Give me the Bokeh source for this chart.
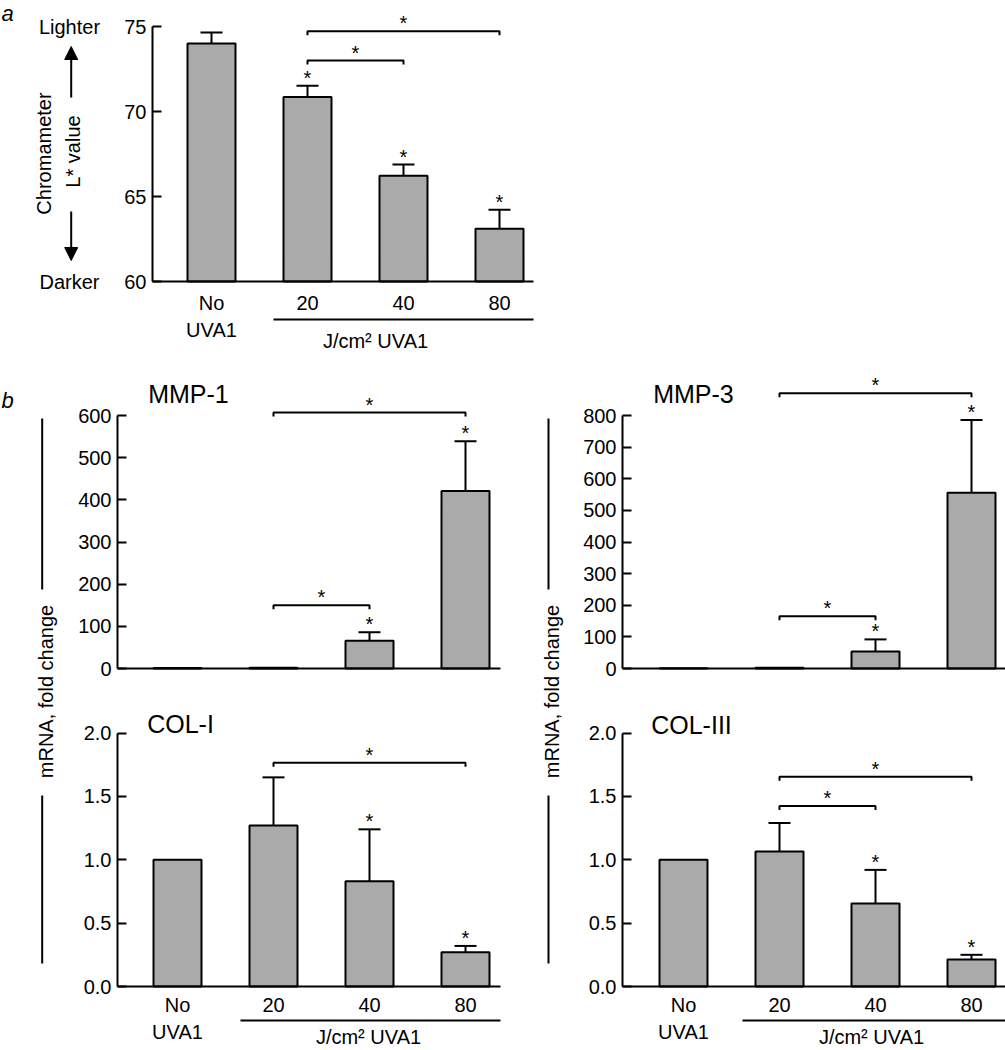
import math
from bokeh.plotting import figure
from bokeh.models import Range1d, Arrow, NormalHead, FixedTicker, PrintfTickFormatter
from bokeh.layouts import column, row
from bokeh.embed import file_html
from bokeh.resources import INLINE
from bokeh.core.properties import value

FONT = "Liberation Sans"
BAR_FILL = "#aaaaaa"
STEP = 96.0  # pixels between group centres

# ---------------- data ----------------
groups = ["No\nUVA1", "20", "40", "80"]
dose_label = "J/cm\u00b2 UVA1"

chrom_mean = [74.0, 70.86, 66.22, 63.10]
chrom_sem = [0.65, 0.65, 0.66, 1.12]
chrom_sig = [False, True, True, True]
chrom_ticks = [60, 65, 70, 75]
chrom_pairs = [(1, 3), (1, 2)]
chrom_pair_level = [74.72, 73.0]

mmp1_mean = [1.0, 2.0, 66.0, 421.0]
mmp1_sem = [0.0, 0.0, 20.0, 118.0]
mmp1_sig = [False, False, True, True]
mmp1_ticks = [0, 100, 200, 300, 400, 500, 600]
mmp1_pairs = [(1, 3), (1, 2)]
mmp1_pair_level = [607.0, 150.0]

mmp3_mean = [1.0, 2.0, 54.0, 556.0]
mmp3_sem = [0.0, 0.0, 38.0, 230.0]
mmp3_sig = [False, False, True, True]
mmp3_ticks = [0, 100, 200, 300, 400, 500, 600, 700, 800]
mmp3_pairs = [(1, 3), (1, 2)]
mmp3_pair_level = [870.0, 165.0]

col1_mean = [1.0, 1.27, 0.83, 0.27]
col1_sem = [0.0, 0.38, 0.41, 0.05]
col1_sig = [False, False, True, True]
col_ticks = [0.0, 0.5, 1.0, 1.5, 2.0]
col1_pairs = [(1, 3)]
col1_pair_level = [1.766]

col3_mean = [1.0, 1.065, 0.655, 0.213]
col3_sem = [0.0, 0.225, 0.265, 0.037]
col3_sig = [False, False, True, True]
col3_pairs = [(1, 3), (1, 2)]
col3_pair_level = [1.655, 1.424]


# ---------------- geometry helper (page pixels -> data units) ----------------
class Geo:
    def __init__(self, cx0, cy0, w, h, fl, fr, cat0, axis, ppu, y0):
        self.cx0, self.cy0, self.w, self.h = cx0, cy0, w, h
        self.fl, self.fr = fl, fr
        self.cat0, self.axis, self.ppu, self.y0 = cat0, axis, ppu, y0

    def X(self, px):
        return (px - self.cat0) / STEP

    def Y(self, py):
        return self.y0 + (self.axis - py) / self.ppu

    def vpx(self, n):
        return n / self.ppu


def txt(p, x, y, texts, size="20px", align="center", baseline="middle",
        angle=0.0, style="normal", y_offset=0):
    p.text(x=x, y=y, text=texts, text_font=value(FONT), text_font_size=size,
           text_align=align, text_baseline=baseline, angle=angle,
           text_font_style=style, text_color="black", y_offset=y_offset)


def make_panel(g, means, sems, sig, ticks, fmt, pairs, levels,
               title=None, title_at=None, label_y=None):
    p = figure(width=g.w, height=g.h,
               x_range=Range1d(g.X(g.cx0), g.X(g.cx0 + g.w)),
               y_range=Range1d(g.Y(g.cy0 + g.h), g.Y(g.cy0)),
               output_backend="svg", toolbar_location=None, title=None,
               min_border=0)
    p.outline_line_color = None
    p.xgrid.visible = False
    p.ygrid.visible = False
    p.background_fill_color = "white"
    p.border_fill_color = "white"

    xs = list(range(len(groups)))
    p.vbar(x=xs, top=means, bottom=g.y0, width=0.5, fill_color=BAR_FILL,
           line_color="black", line_width=2)

    ex = [x for x, s in zip(xs, sems) if s > 0]
    eb = [m for m, s in zip(means, sems) if s > 0]
    et = [m + s for m, s in zip(means, sems) if s > 0]
    cw = 11 / STEP
    p.segment(x0=ex, y0=eb, x1=ex, y1=et, line_color="black", line_width=2)
    p.segment(x0=[x - cw for x in ex], y0=et, x1=[x + cw for x in ex], y1=et,
              line_color="black", line_width=2)

    sx = [x for x, f in zip(xs, sig) if f]
    sy = [m + s for m, s, f in zip(means, sems, sig) if f]
    bxs, bys = [], []
    tk = g.vpx(4)
    for (i, j), lv in zip(pairs, levels):
        bxs.append([i, i, j, j])
        bys.append([lv - tk, lv, lv, lv - tk])
        sx.append((i + j) / 2)
        sy.append(lv)
    p.multi_line(xs=bxs, ys=bys, line_color="black", line_width=2)
    txt(p, sx, sy, ["*"] * len(sx), size="20px", baseline="alphabetic", y_offset=-8)

    if title:
        txt(p, [g.X(title_at[0])], [g.Y(title_at[1])], [title], size="25px")

    yax = p.yaxis[0]
    yax.fixed_location = g.X(g.fl)
    yax.ticker = FixedTicker(ticks=ticks)
    yax.bounds = (ticks[0], ticks[-1])
    if fmt:
        yax.formatter = PrintfTickFormatter(format=fmt)
    yax.major_tick_in = 9
    yax.major_tick_out = 0
    yax.minor_tick_line_color = None
    yax.axis_line_width = 2
    yax.major_tick_line_width = 2
    yax.major_label_text_font = FONT
    yax.major_label_text_font_size = "20px"
    yax.major_label_text_color = "black"
    yax.major_label_standoff = 6

    xax = p.xaxis[0]
    xax.fixed_location = g.y0
    xax.bounds = (g.X(g.fl), g.X(g.fr))
    xax.ticker = FixedTicker(ticks=[])
    xax.axis_line_width = 2
    xax.major_tick_line_color = None
    xax.minor_tick_line_color = None

    if label_y is not None:
        split = [t.split("\n") for t in groups]
        for k in range(max(len(s) for s in split)):
            lx = [i for i, s in enumerate(split) if len(s) > k]
            lt = [s[k] for s in split if len(s) > k]
            txt(p, lx, [g.Y(label_y + 27 * k)] * len(lx), lt)
    return p


def dose_axis(p, g, ux0, ux1, uy, lx, ly):
    p.segment(x0=[g.X(ux0)], y0=[g.Y(uy)], x1=[g.X(ux1)], y1=[g.Y(uy)],
              line_color="black", line_width=2)
    txt(p, [g.X(lx)], [g.Y(ly)], [dose_label])


def v_arrow(p, g, x, y0, y1):
    p.add_layout(Arrow(end=NormalHead(size=13, fill_color="black", line_color="black",
                                      line_width=1),
                       x_start=g.X(x), y_start=g.Y(y0), x_end=g.X(x), y_end=g.Y(y1),
                       line_color="black", line_width=2))


# ---------------- panel a ----------------
ga = Geo(cx0=0, cy0=0, w=1005, h=362, fl=152, fr=533, cat0=211, axis=281,
         ppu=17.0, y0=60)
pa = make_panel(ga, chrom_mean, chrom_sem, chrom_sig, chrom_ticks, None,
                chrom_pairs, chrom_pair_level, label_y=302)
txt(pa, [ga.X(1)], [ga.Y(13)], ["a"], size="22px", align="left",
    baseline="alphabetic", style="italic")
txt(pa, [ga.X(69)], [ga.Y(26)], ["Lighter"])
txt(pa, [ga.X(69)], [ga.Y(281)], ["Darker"])
txt(pa, [ga.X(43)], [ga.Y(153)], ["Chromameter"], angle=math.pi / 2)
txt(pa, [ga.X(72)], [ga.Y(151)], ["L* value"], angle=math.pi / 2)
v_arrow(pa, ga, 70.7, 97, 46)
v_arrow(pa, ga, 70.7, 211, 260)
dose_axis(pa, ga, 273, 533, 319, 375, 340)

# ---------------- panel b ----------------
g1 = Geo(cx0=60, cy0=362, w=445, h=338, fl=117, fr=500, cat0=177, axis=668,
         ppu=253.0 / 600.0, y0=0)
g2 = Geo(cx0=570, cy0=362, w=435, h=338, fl=622, fr=1005, cat0=683, axis=668,
         ppu=253.0 / 800.0, y0=0)
g3 = Geo(cx0=60, cy0=700, w=445, h=350, fl=117, fr=500, cat0=177, axis=986,
         ppu=126.75, y0=0)
g4 = Geo(cx0=570, cy0=700, w=435, h=350, fl=622, fr=1005, cat0=683, axis=986,
         ppu=126.75, y0=0)

p1 = make_panel(g1, mmp1_mean, mmp1_sem, mmp1_sig, mmp1_ticks, None,
                mmp1_pairs, mmp1_pair_level, "MMP-1", (188, 393))
p2 = make_panel(g2, mmp3_mean, mmp3_sem, mmp3_sig, mmp3_ticks, None,
                mmp3_pairs, mmp3_pair_level, "MMP-3", (693, 393))
p3 = make_panel(g3, col1_mean, col1_sem, col1_sig, col_ticks, "%.1f",
                col1_pairs, col1_pair_level, "COL-I", (180, 723), label_y=1004)
p4 = make_panel(g4, col3_mean, col3_sem, col3_sig, col_ticks, "%.1f",
                col3_pairs, col3_pair_level, "COL-III", (691, 724), label_y=1004)
dose_axis(p3, g3, 240, 500, 1020, 368, 1036)
dose_axis(p4, g4, 742, 1005, 1020, 871, 1036)


def make_side(cx0, w, text_x, line_x, letter=None):
    top, h = 362, 688
    p = figure(width=w, height=h,
               x_range=Range1d(cx0, cx0 + w), y_range=Range1d(top + h, top),
               x_axis_type=None, y_axis_type=None, output_backend="svg",
               toolbar_location=None, title=None, min_border=0)
    p.outline_line_color = None
    p.background_fill_color = "white"
    p.border_fill_color = "white"
    txt(p, [text_x], [691], ["mRNA, fold change"], angle=math.pi / 2)
    p.segment(x0=[line_x, line_x], y0=[418, 795], x1=[line_x, line_x], y1=[589, 963],
              line_color="black", line_width=2)
    if letter:
        txt(p, [cx0 + 1], [400], [letter], size="22px", align="left", style="italic")
    return p


sl = make_side(0, 60, 45, 41.7, "b")
sr = make_side(505, 65, 551.7, 548)

layout = column(pa, row(sl, column(p1, p3), sr, column(p2, p4)))

open("out.html", "w").write(file_html(layout, INLINE))
